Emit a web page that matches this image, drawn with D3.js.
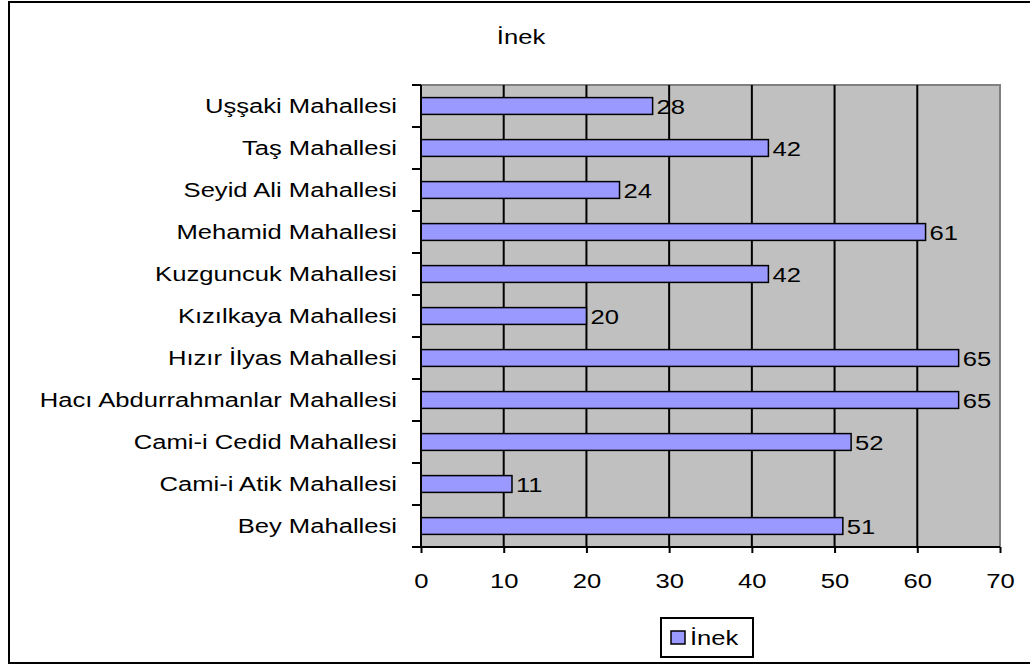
<!DOCTYPE html>
<html>
<head>
<meta charset="utf-8">
<script src="https://cdn.jsdelivr.net/npm/d3@7"></script>
<style>
  body { margin: 0; background: #fff; }
  text { font-family: "Liberation Sans", Arial, sans-serif; fill: #000; }
</style>
</head>
<body>
<svg></svg>
<script>
// categories top to bottom, as in the picture
let categories = [
  'Uşşaki Mahallesi', 'Taş Mahallesi', 'Seyid Ali Mahallesi', 'Mehamid Mahallesi',
  'Kuzguncuk Mahallesi', 'Kızılkaya Mahallesi', 'Hızır İlyas Mahallesi',
  'Hacı Abdurrahmanlar Mahallesi', 'Cami-i Cedid Mahallesi', 'Cami-i Atik Mahallesi', 'Bey Mahallesi'
]
let inek = [28, 42, 24, 61, 42, 20, 65, 65, 52, 11, 51]
let xTicks = [0, 10, 20, 30, 40, 50, 60, 70]
let seriesName = 'İnek'

let width = 1030
let height = 666
let plot = { left: 421, right: 1000, top: 85, bottom: 547 }
let fontSize = '21px'
let sx = 1.22   // the original text is drawn a bit wide

let svg = d3.select('svg').attr('width', width).attr('height', height)

// outer frame
svg.append('rect')
  .attr('x', 9).attr('y', 2)
  .attr('width', 1030).attr('height', 661)
  .attr('fill', '#fff').attr('stroke', '#000').attr('stroke-width', 2)

let xScale = d3.scaleLinear().domain([0, 70]).range([plot.left, plot.right])
let yScale = d3.scaleBand().domain(categories).range([plot.top, plot.bottom])
  .paddingInner(0.6).paddingOuter(0.3)
let bandScale = d3.scaleBand().domain(categories).range([plot.top, plot.bottom])

// plot background
svg.append('rect')
  .attr('x', plot.left).attr('y', plot.top)
  .attr('width', plot.right - plot.left).attr('height', plot.bottom - plot.top)
  .attr('fill', '#c0c0c0').attr('stroke', '#808080').attr('stroke-width', 2)

// gridlines
svg.append('g')
  .selectAll('line')
  .data(xTicks.slice(1, -1))
  .enter()
  .append('line')
  .attr('x1', d => xScale(d)).attr('x2', d => xScale(d))
  .attr('y1', plot.top).attr('y2', plot.bottom)
  .attr('stroke', '#000').attr('stroke-width', 2)

// bars
svg.append('g')
  .selectAll('rect')
  .data(inek)
  .enter()
  .append('rect')
  .attr('x', xScale(0))
  .attr('y', (d, i) => yScale(categories[i]))
  .attr('width', d => xScale(d) - xScale(0))
  .attr('height', yScale.bandwidth())
  .attr('fill', '#9999ff')
  .attr('stroke', '#000').attr('stroke-width', 1.5)

// value labels
svg.append('g')
  .selectAll('text')
  .data(inek)
  .enter()
  .append('text')
  .attr('transform', (d, i) => 'translate(' + (xScale(d) + 4) + ',' +
    (yScale(categories[i]) + yScale.bandwidth() / 2) + ') scale(' + sx + ',1)')
  .attr('dy', '0.36em')
  .attr('font-size', fontSize)
  .text(d => d)

// x axis
let xAxis = d3.axisBottom(xScale).tickValues(xTicks).tickSize(6).tickPadding(20)
let gx = svg.append('g')
  .attr('transform', 'translate(0,' + plot.bottom + ')')
  .call(xAxis)
gx.select('.domain').attr('stroke', '#000').attr('stroke-width', 2)
  .attr('d', 'M' + plot.left + ',0H' + plot.right)
gx.selectAll('.tick line').attr('stroke', '#000').attr('stroke-width', 2)
gx.selectAll('.tick text')
  .attr('font-size', fontSize)
  .attr('font-family', '"Liberation Sans", Arial, sans-serif')
  .attr('transform', 'scale(' + sx + ',1)')

// y axis: ticks at band boundaries
let yAxis = d3.axisLeft(bandScale).tickSize(0).tickPadding(24)
let gy = svg.append('g')
  .attr('transform', 'translate(' + plot.left + ',0)')
  .call(yAxis)
gy.select('.domain').attr('stroke', '#000').attr('stroke-width', 2)
  .attr('d', 'M0,' + plot.top + 'V' + plot.bottom)
gy.selectAll('.tick text')
  .attr('font-size', fontSize)
  .attr('font-family', '"Liberation Sans", Arial, sans-serif')
  .attr('x', -24 / sx)
  .attr('dy', '0.35em')
  .attr('transform', 'scale(' + sx + ',1)')
gy.selectAll('.boundary')
  .data(d3.range(categories.length + 1))
  .enter()
  .append('line')
  .attr('x1', -9).attr('x2', 0)
  .attr('y1', i => plot.top + i * bandScale.step())
  .attr('y2', i => plot.top + i * bandScale.step())
  .attr('stroke', '#000').attr('stroke-width', 2)

// title
svg.append('text')
  .attr('transform', 'translate(521,44) scale(' + sx + ',1)')
  .attr('text-anchor', 'middle')
  .attr('font-size', fontSize)
  .text(seriesName)

// legend
let legend = svg.append('g')
legend.append('rect')
  .attr('x', 661).attr('y', 618).attr('width', 92).attr('height', 39)
  .attr('fill', '#fff').attr('stroke', '#000').attr('stroke-width', 2)
legend.append('rect')
  .attr('x', 671).attr('y', 631).attr('width', 14).attr('height', 13)
  .attr('fill', '#9999ff').attr('stroke', '#000').attr('stroke-width', 1.5)
legend.append('text')
  .attr('transform', 'translate(690,645) scale(' + sx + ',1)')
  .attr('font-size', fontSize)
  .text(seriesName)
</script>
</body>
</html>
